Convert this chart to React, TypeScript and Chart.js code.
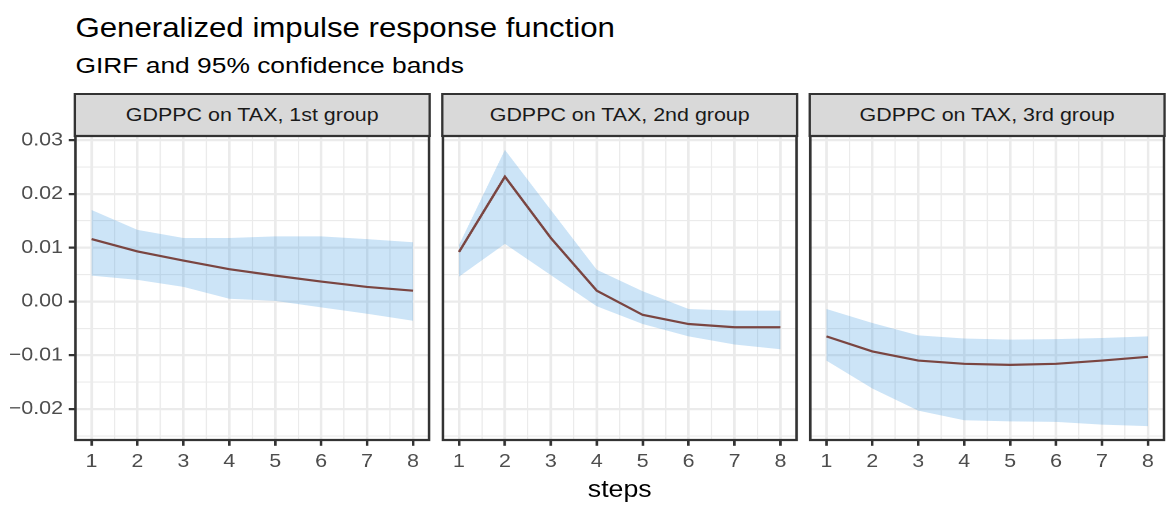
import React, { useEffect, useRef } from 'react';
import { Chart, registerables } from 'chart.js';

Chart.register(...registerables);

// ---------------- data ----------------
const steps = [1, 2, 3, 4, 5, 6, 7, 8];
const panelTitles = ['GDPPC on TAX, 1st group', 'GDPPC on TAX, 2nd group', 'GDPPC on TAX, 3rd group'];

const girf1 = [0.0116, 0.0093, 0.0076, 0.0060, 0.0048, 0.0037, 0.0027, 0.0020];
const upper1 = [0.0170, 0.0133, 0.0118, 0.0118, 0.0121, 0.0121, 0.0116, 0.0110];
const lower1 = [0.0048, 0.0040, 0.0027, 0.0005, 0.0001, -0.0011, -0.0023, -0.0036];

const girf2 = [0.0092, 0.0232, 0.0118, 0.0020, -0.0025, -0.0042, -0.0048, -0.0048];
const upper2 = [0.0105, 0.0282, 0.0170, 0.0059, 0.0019, -0.0014, -0.0017, -0.0017];
const lower2 = [0.0046, 0.0107, 0.0049, -0.0009, -0.0042, -0.0065, -0.0080, -0.0089];

const girf3 = [-0.0065, -0.0093, -0.0110, -0.0116, -0.0118, -0.0116, -0.0110, -0.0103];
const upper3 = [-0.0014, -0.0040, -0.0063, -0.0069, -0.0071, -0.0070, -0.0068, -0.0065];
const lower3 = [-0.0110, -0.0162, -0.0203, -0.0221, -0.0223, -0.0224, -0.0229, -0.0232];

const TITLE = 'Generalized impulse response function';
const SUBTITLE = 'GIRF and 95% confidence bands';
const X_TITLE = 'steps';

// ---------------- styling / layout ----------------
const FONT = "'Liberation Sans', Arial, Helvetica, sans-serif";
const BASE_W = 1014;
const SCALE_X = 1168 / BASE_W;
const PANEL_W = 307;
const PANEL_LEFTS = [65.5, 384.5, 703.5];
const PLOT_TOP = 136;
const PLOT_BOTTOM = 440;
const STRIP_H = 42;
const BORDER_W = 2.25;
const PAD = 4.5;
const TOP_PAD = 20;
const X_AXIS_H = 40;

const X_MIN = 0.65;
const X_MAX = 8.35;
const Y_MIN = -0.02577;
const Y_MAX = 0.03077;

const LINE_COLOR = '#7A4541';
const BAND_COLOR = 'rgba(51,147,223,0.25)';
const GRID_COLOR = '#EBEBEB';
const DARK = '#333333';
const TICK_TEXT = '#4D4D4D';

const isMajorY = (v: number) => Math.abs(v * 100 - Math.round(v * 100)) < 1e-6;
const isMajorX = (v: number) => Math.abs(v - Math.round(v)) < 1e-6;
const fmtY = (v: number) => (Math.round(v * 100) / 100).toFixed(2).replace('-', '\u2212');

const borderPlugin = {
  id: 'panelBorder',
  afterDraw(chart: any) {
    const { ctx, chartArea: a } = chart;
    ctx.save();
    ctx.strokeStyle = DARK;
    ctx.lineWidth = BORDER_W;
    ctx.strokeRect(a.left, a.top, a.right - a.left, a.bottom - a.top);
    ctx.restore();
  },
};

type PanelProps = {
  idx: number;
  girf: number[];
  lower: number[];
  upper: number[];
  showY: boolean;
};

function Panel({ idx, girf, lower, upper, showY }: PanelProps) {
  const ref = useRef<HTMLCanvasElement | null>(null);
  const panelLeft = PANEL_LEFTS[idx];
  const wrapLeft = showY ? 0 : panelLeft - PAD;
  const wrapW = showY ? panelLeft + PANEL_W + PAD : PANEL_W + 2 * PAD;
  const wrapTop = PLOT_TOP - TOP_PAD;
  const wrapH = TOP_PAD + (PLOT_BOTTOM - PLOT_TOP) + X_AXIS_H;

  useEffect(() => {
    if (!ref.current) return;
    const pts = (arr: number[]) => steps.map((s, i) => ({ x: s, y: arr[i] }));
    const chart = new Chart(ref.current, {
      type: 'line',
      data: {
        datasets: [
          {
            data: pts(girf),
            borderColor: LINE_COLOR,
            borderWidth: 2.2,
            pointRadius: 0,
            fill: false,
            tension: 0,
          },
          {
            data: pts(lower),
            borderColor: 'rgba(0,0,0,0)',
            borderWidth: 0,
            pointRadius: 0,
            fill: false,
          },
          {
            data: pts(upper),
            borderColor: 'rgba(0,0,0,0)',
            borderWidth: 0,
            pointRadius: 0,
            fill: 1,
            backgroundColor: BAND_COLOR,
          },
        ],
      },
      options: {
        animation: false,
        responsive: true,
        maintainAspectRatio: false,
        devicePixelRatio: 2,
        events: [],
        layout: { padding: { left: showY ? 0 : PAD, right: PAD, top: TOP_PAD, bottom: 0 } },
        plugins: {
          legend: { display: false },
          tooltip: { enabled: false },
          title: { display: false },
        },
        scales: {
          x: {
            type: 'linear',
            min: X_MIN,
            max: X_MAX,
            border: { display: false },
            grid: {
              color: GRID_COLOR,
              lineWidth: (c: any) => (isMajorX(c.tick.value) ? BORDER_W : 1.1),
              drawTicks: true,
              tickLength: 5.8,
              tickWidth: BORDER_W,
              tickColor: (c: any) => (isMajorX(c.tick.value) ? DARK : 'rgba(0,0,0,0)'),
            },
            ticks: {
              stepSize: 0.5,
              maxTicksLimit: 100,
              autoSkip: false,
              includeBounds: false,
              maxRotation: 0,
              minRotation: 0,
              padding: 5,
              color: TICK_TEXT,
              font: { family: FONT, size: 18.6 },
              callback: (v: any) => (isMajorX(Number(v)) ? String(Math.round(Number(v))) : ''),
            },
            afterFit: (s: any) => {
              s.height = X_AXIS_H;
            },
          },
          y: {
            type: 'linear',
            min: Y_MIN,
            max: Y_MAX,
            border: { display: false },
            grid: {
              color: GRID_COLOR,
              lineWidth: (c: any) => (isMajorY(c.tick.value) ? BORDER_W : 1.1),
              drawTicks: showY,
              tickLength: 5.8,
              tickWidth: BORDER_W,
              tickColor: (c: any) => (isMajorY(c.tick.value) ? DARK : 'rgba(0,0,0,0)'),
            },
            ticks: {
              display: showY,
              stepSize: 0.005,
              maxTicksLimit: 100,
              autoSkip: false,
              includeBounds: false,
              padding: 5,
              color: TICK_TEXT,
              font: { family: FONT, size: 18.6 },
              callback: (v: any) => (isMajorY(Number(v)) ? fmtY(Number(v)) : ''),
            },
            afterFit: (s: any) => {
              s.width = showY ? panelLeft : 0;
            },
          },
        },
      },
      plugins: [borderPlugin],
    } as any);
    return () => chart.destroy();
  }, [girf, lower, upper, showY, panelLeft]);

  return (
    <>
      <div
        style={{
          position: 'absolute',
          left: panelLeft - BORDER_W / 2,
          top: PLOT_TOP - STRIP_H - BORDER_W / 2,
          width: PANEL_W + BORDER_W,
          height: STRIP_H + BORDER_W,
          boxSizing: 'border-box',
          border: `${BORDER_W}px solid ${DARK}`,
          background: '#D9D9D9',
          color: '#1A1A1A',
          fontFamily: FONT,
          fontSize: 18.6,
          display: 'flex',
          alignItems: 'center',
          justifyContent: 'center',
          whiteSpace: 'nowrap',
        }}
      >
        {panelTitles[idx]}
      </div>
      <div style={{ position: 'absolute', left: wrapLeft, top: wrapTop, width: wrapW, height: wrapH }}>
        <canvas ref={ref} />
      </div>
    </>
  );
}

export default function App() {
  return (
    <div
      style={{
        position: 'fixed',
        left: 0,
        top: 0,
        width: BASE_W,
        height: 507,
        background: '#FFFFFF',
        transform: `scaleX(${SCALE_X})`,
        transformOrigin: '0 0',
        overflow: 'hidden',
      }}
    >
      <div
        style={{
          position: 'absolute',
          left: PANEL_LEFTS[0],
          top: 13.5,
          fontFamily: FONT,
          fontSize: 27.1,
          lineHeight: 1,
          color: '#000000',
          whiteSpace: 'nowrap',
        }}
      >
        {TITLE}
      </div>
      <div
        style={{
          position: 'absolute',
          left: PANEL_LEFTS[0],
          top: 54,
          fontFamily: FONT,
          fontSize: 22.9,
          lineHeight: 1,
          color: '#000000',
          whiteSpace: 'nowrap',
        }}
      >
        {SUBTITLE}
      </div>
      <Panel idx={0} girf={girf1} lower={lower1} upper={upper1} showY={true} />
      <Panel idx={1} girf={girf2} lower={lower2} upper={upper2} showY={false} />
      <Panel idx={2} girf={girf3} lower={lower3} upper={upper3} showY={false} />
      <div
        style={{
          position: 'absolute',
          left: PANEL_LEFTS[0],
          width: PANEL_LEFTS[2] + PANEL_W - PANEL_LEFTS[0],
          top: 478.4,
          textAlign: 'center',
          fontFamily: FONT,
          fontSize: 23.2,
          lineHeight: 1,
          color: '#000000',
          whiteSpace: 'nowrap',
        }}
      >
        {X_TITLE}
      </div>
    </div>
  );
}
